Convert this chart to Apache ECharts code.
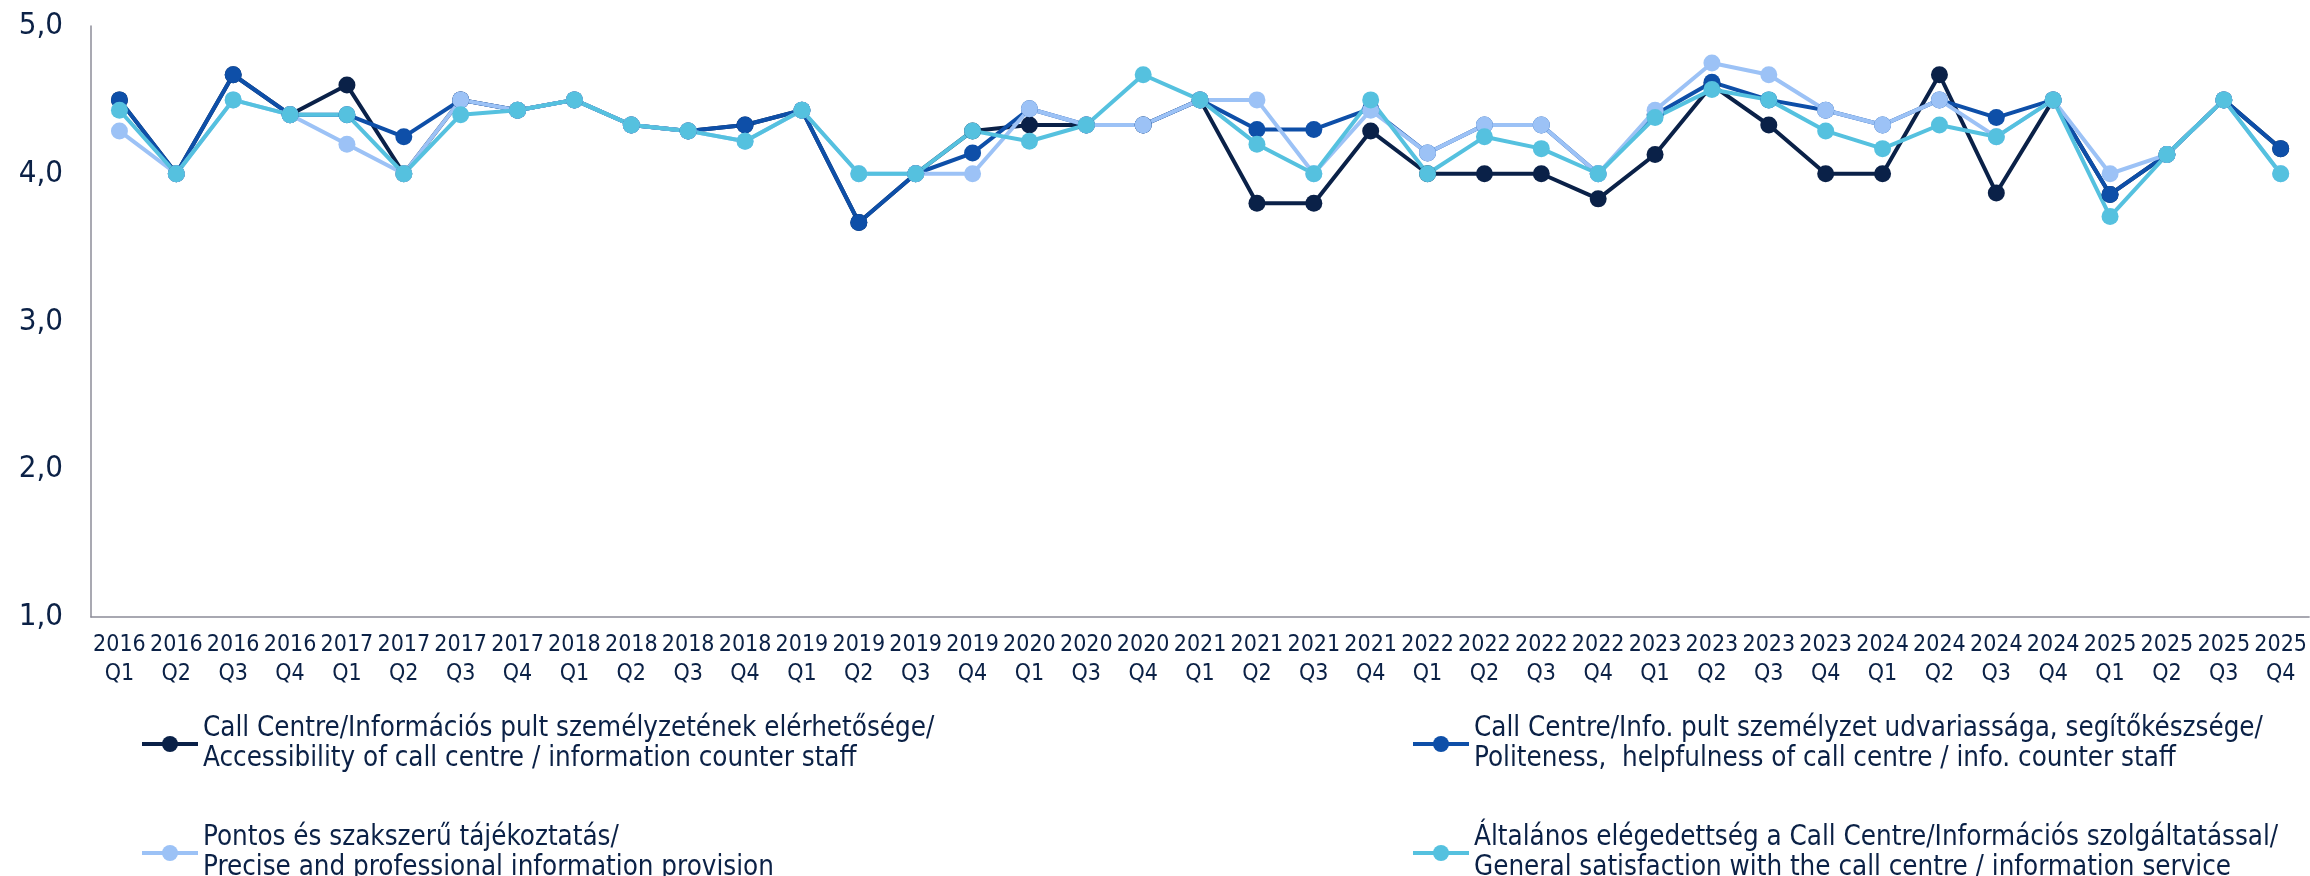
<!DOCTYPE html>
<html>
<head>
<meta charset="utf-8">
<title>Call Centre / Információs szolgáltatás</title>
<script src="https://cdn.jsdelivr.net/npm/echarts@6/dist/echarts.min.js"></script>
<style>
  html, body { margin: 0; padding: 0; background: #ffffff; }
  #chart { width: 2310px; height: 876px; }
</style>
</head>
<body>
<div id="chart"></div>
<script>
// Quarterly survey periods (no 2020 Q2 survey)
const periods = [
  '2016 Q1', '2016 Q2', '2016 Q3', '2016 Q4',
  '2017 Q1', '2017 Q2', '2017 Q3', '2017 Q4',
  '2018 Q1', '2018 Q2', '2018 Q3', '2018 Q4',
  '2019 Q1', '2019 Q2', '2019 Q3', '2019 Q4',
  '2020 Q1', '2020 Q3', '2020 Q4',
  '2021 Q1', '2021 Q2', '2021 Q3', '2021 Q4',
  '2022 Q1', '2022 Q2', '2022 Q3', '2022 Q4',
  '2023 Q1', '2023 Q2', '2023 Q3', '2023 Q4',
  '2024 Q1', '2024 Q2', '2024 Q3', '2024 Q4',
  '2025 Q1', '2025 Q2', '2025 Q3', '2025 Q4'
];

// Value axis ticks
const yTicks = [1, 2, 3, 4, 5];

// Series names (Hungarian / English)
const nameAccessibility = 'Call Centre/Információs pult személyzetének elérhetősége/\nAccessibility of call centre / information counter staff';
const namePoliteness = 'Call Centre/Info. pult személyzet udvariassága, segítőkészsége/\nPoliteness,  helpfulness of call centre / info. counter staff';
const namePrecise = 'Pontos és szakszerű tájékoztatás/\nPrecise and professional information provision';
const nameGeneral = 'Általános elégedettség a Call Centre/Információs szolgáltatással/\nGeneral satisfaction with the call centre / information service';

// Average scores (1–5 scale)
const accessibility = [
  4.50, 4.00, 4.67, 4.40, 4.60, 4.00, 4.50, 4.43,
  4.50, 4.33, 4.29, 4.33, 4.43, 3.67, 4.00, 4.29,
  4.33, 4.33, 4.33,
  4.50, 3.80, 3.80, 4.29, 4.00, 4.00, 4.00, 3.83,
  4.13, 4.60, 4.33, 4.00, 4.00, 4.67, 3.87, 4.50,
  3.86, 4.13, 4.50, 4.17
];
const politeness = [
  4.50, 4.00, 4.67, 4.40, 4.40, 4.25, 4.50, 4.43,
  4.50, 4.33, 4.29, 4.33, 4.43, 3.67, 4.00, 4.14,
  4.44, 4.33, 4.33,
  4.50, 4.30, 4.30, 4.44, 4.14, 4.33, 4.33, 4.00,
  4.40, 4.62, 4.50, 4.43, 4.33, 4.50, 4.38, 4.50,
  3.86, 4.13, 4.50, 4.17
];
const precise = [
  4.29, 4.00, 4.50, 4.40, 4.20, 4.00, 4.50, 4.43,
  4.50, 4.33, 4.29, 4.22, 4.43, 4.00, 4.00, 4.00,
  4.44, 4.33, 4.33,
  4.50, 4.50, 4.00, 4.43, 4.14, 4.33, 4.33, 4.00,
  4.43, 4.75, 4.67, 4.43, 4.33, 4.50, 4.25, 4.50,
  4.00, 4.13, 4.50, 4.00
];
const general = [
  4.43, 4.00, 4.50, 4.40, 4.40, 4.00, 4.40, 4.43,
  4.50, 4.33, 4.29, 4.22, 4.43, 4.00, 4.00, 4.29,
  4.22, 4.33, 4.67,
  4.50, 4.20, 4.00, 4.50, 4.00, 4.25, 4.17, 4.00,
  4.38, 4.57, 4.50, 4.29, 4.17, 4.33, 4.25, 4.50,
  3.71, 4.13, 4.50, 4.00
];

const seriesColors = ['#0a2148', '#0e4fa8', '#9cc2f6', '#55c1df'];

const FONT = '"DejaVu Sans Condensed", "DejaVu Sans", sans-serif';
const TEXT_COLOR = '#0b2146';
const AXIS_COLOR = '#8c8c98';

function makeLine(name, data, color) {
  return {
    name: name,
    type: 'line',
    data: data,
    symbol: 'circle',
    symbolSize: 17,
    lineStyle: { width: 4, color: color },
    itemStyle: { color: color },
    emphasis: { disabled: true },
    animation: false
  };
}

// One legend block per series so each sits in its own slot;
// top padding keeps the marker level with the first text line
function makeLegend(name, left, top) {
  return {
    data: [name],
    left: left,
    top: top,
    orient: 'vertical',
    itemWidth: 56,
    itemHeight: 20,
    itemGap: 0,
    padding: 0,
    selectedMode: false,
    lineStyle: { width: 4 },
    textStyle: {
      fontFamily: FONT,
      fontSize: 27.5,
      color: TEXT_COLOR,
      lineHeight: 30,
      padding: [30, 0, 0, 0]
    }
  };
}

const chart = echarts.init(document.getElementById('chart'), null, { renderer: 'canvas' });

chart.setOption({
  backgroundColor: '#ffffff',
  animation: false,
  color: seriesColors,
  textStyle: { fontFamily: FONT },
  grid: { left: 91, right: 0, top: 26, bottom: 259, containLabel: false },
  legend: [
    makeLegend(nameAccessibility, 140, 699),
    makeLegend(namePoliteness, 1411, 699),
    makeLegend(namePrecise, 140, 808),
    makeLegend(nameGeneral, 1411, 808)
  ],
  xAxis: {
    type: 'category',
    data: periods,
    boundaryGap: true,
    axisLine: { show: true, lineStyle: { color: AXIS_COLOR, width: 1.5 } },
    axisTick: { show: false },
    splitLine: { show: false },
    axisLabel: {
      interval: 0,
      margin: 14,
      color: TEXT_COLOR,
      fontFamily: FONT,
      fontSize: 23,
      lineHeight: 29,
      formatter: function (v) { return v.replace(' ', '\n'); }
    }
  },
  yAxis: {
    type: 'value',
    min: yTicks[0],
    max: yTicks[yTicks.length - 1],
    interval: 1,
    axisLine: { show: true, lineStyle: { color: AXIS_COLOR, width: 1.5 } },
    axisTick: { show: false },
    splitLine: { show: false },
    axisLabel: {
      margin: 28,
      color: TEXT_COLOR,
      fontFamily: FONT,
      fontSize: 31,
      formatter: function (v) { return v.toFixed(1).replace('.', ','); }
    }
  },
  series: [
    makeLine(nameAccessibility, accessibility, seriesColors[0]),
    makeLine(namePoliteness, politeness, seriesColors[1]),
    makeLine(namePrecise, precise, seriesColors[2]),
    makeLine(nameGeneral, general, seriesColors[3])
  ]
});
</script>
</body>
</html>
